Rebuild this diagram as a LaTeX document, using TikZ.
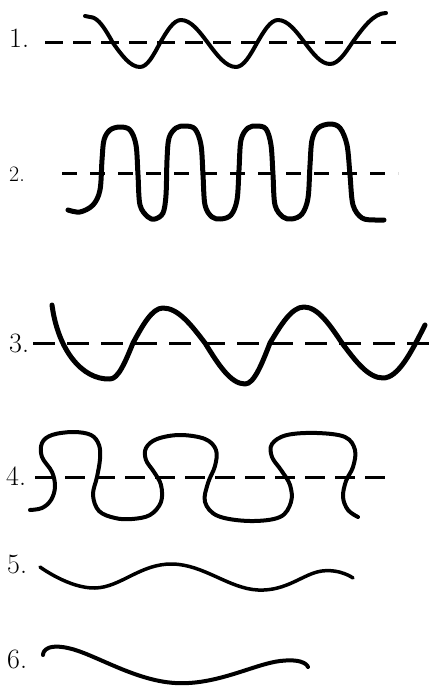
\documentclass[tikz,border=0pt]{standalone}
\usepackage{tikz}
\usetikzlibrary{calc}

\begin{document}
\begin{tikzpicture}[x=1pt, y=-1pt,
    wave/.style={line width=4pt, line cap=round, line join=round},
    midline/.style={line width=3pt, dash pattern=on 18pt off 10pt},
    numlabel/.style={anchor=base west, inner sep=0pt, font=\fontsize{28}{28}\selectfont}]
    \useasboundingbox (0,0) rectangle (440,687);

    % row labels
    \node[numlabel] (lbl1) at (9,48) {1.};
    \node[numlabel, font=\fontsize{22}{22}\selectfont] (lbl2) at (9,182) {2.};
    \node[numlabel] (lbl3) at (9,352) {3.};
    \node[numlabel] (lbl4) at (6,485) {4.};
    \node[numlabel] (lbl5) at (7,573) {5.};
    \node[numlabel] (lbl6) at (7,668) {6.};

    % 1. plain wave
    \draw[midline] (45,43) -- (396,43);
    \draw[wave] (85,16) -- (90,17) cos (113,43) sin (140,67) cos (160,43) sin (181,20)
        cos (208,43) sin (236,67) cos (257,43) sin (278,20) cos (305,43) sin (330,64)
        cos (352,43) sin (386,13);

    % 2. steep wave
    \draw[midline, dash pattern=on 15pt off 13pt] (62,173) -- (398,173);
    \draw[wave, line width=5pt] plot[smooth, tension=0.55] coordinates {(68,210) (80,212) (93,205) (100,190)
        (102,160) (104,140) (110,130) (120,127) (130,130) (136,145) (138,175) (140,205) (148,217) (155,219)
        (163,213) (166,195) (167,160) (169,138) (176,128) (185,126) (195,129) (201,145) (203,175) (205,205)
        (212,217) (221,219) (231,215) (237,200) (239,170) (241,140) (248,128) (257,126) (266,129) (271,145)
        (273,175) (275,205) (283,217) (292,219) (302,214) (308,198) (310,165) (312,140) (318,128) (330,124)
        (340,128) (347,145) (350,175) (353,205) (362,218) (375,220) (384,220)};

    % 3. broad wave
    \draw[midline, dash pattern=on 22pt off 12pt] (33,343) -- (437,343);
    \draw[wave, line width=5pt] (52,305) .. controls (58,350) and (82,380) .. (110,379)
        cos (133,343) sin (163,308) cos (205,343) sin (245,384) cos (270,343) sin (304,307)
        cos (342,343) sin (383,378) cos (425,325);

    % 4. overhanging wave
    \draw[midline, dash pattern=on 20pt off 10pt] (35,477) -- (392,477);
    \draw[wave] plot[smooth, tension=0.6] coordinates {(30,510) (42,508) (51,500) (55,487) (52,472)
        (42,457) (42,443) (52,435) (73,432) (91,435) (99,445) (100,459) (97,477) (93,495) (99,511)
        (115,518) (132,519) (150,515) (161,502) (161,485) (154,472) (146,460) (146,448) (157,439) (180,435)
        (205,439) (216,450) (215,466) (208,483) (205,502) (218,516) (250,521) (280,517) (291,502) (290,485)
        (281,470) (272,457) (272,444) (287,435) (317,433) (345,437) (355,450) (353,467) (346,481) (343,497)
        (348,510) (358,517)};

    % 5. and 6. low waves
    \draw[wave, line width=3.5pt] plot[smooth, tension=0.7] coordinates {(40,567) (95,588)
        (172,564) (258,590) (322,571) (353,578)};
    \draw[wave, line width=4pt] plot[smooth, tension=0.7] coordinates {(43,655) (68,648)
        (175,683) (280,661) (308,667)};
\end{tikzpicture}
\end{document}
